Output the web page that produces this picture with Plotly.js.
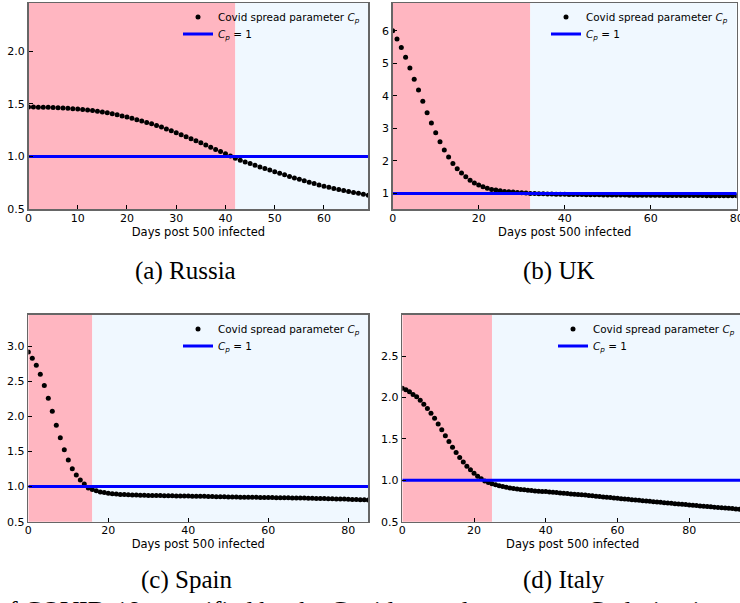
<!DOCTYPE html>
<html><head><meta charset="utf-8">
<script src="https://cdn.plot.ly/plotly-3.0.1.min.js"></script>
<style>html,body{margin:0;padding:0;overflow:hidden;background:#fff;width:740px;height:603px}#chart{width:745px;height:603px}</style>
</head><body><div id="chart"></div>
<script>
// ---- data ----
const countries = ["Russia", "UK", "Spain", "Italy"];
const captions = ["(a) Russia", "(b) UK", "(c) Spain", "(d) Italy"];
const splitDay = [42, 32, 16, 25];
const xMax = [69, 80, 85, 95];
const yRangeLow = [0.5, 0.52, 0.5, 0.5];
const yRangeHigh = [2.46, 6.85, 3.45, 3.0];
const xTicks = [[0,10,20,30,40,50,60],[0,20,40,60,80],[0,20,40,60,80],[0,20,40,60,80]];
const yTicks = [[0.5,1.0,1.5,2.0],[1,2,3,4,5,6],[0.5,1.0,1.5,2.0,2.5,3.0],[0.5,1.0,1.5,2.0,2.5]];
const yTickFmt = [".1f", "d", ".1f", ".1f"];
const thresholdCp = 1;

const russiaCp = [1.470,1.470,1.469,1.468,1.467,1.465,1.463,1.461,1.458,1.455,
 1.451,1.447,1.442,1.436,1.430,1.423,1.415,1.406,1.396,1.386,
 1.375,1.363,1.350,1.337,1.324,1.310,1.295,1.280,1.262,1.244,
 1.225,1.206,1.187,1.168,1.149,1.130,1.109,1.088,1.067,1.046,
 1.025,1.004,0.984,0.965,0.948,0.932,0.916,0.900,0.885,0.870,
 0.855,0.840,0.825,0.810,0.796,0.782,0.768,0.755,0.742,0.729,
 0.716,0.706,0.696,0.686,0.676,0.667,0.658,0.649,0.640,0.632];
const ukCp = [6.00,5.745,5.48,5.18,4.85,4.51,4.18,3.83,3.48,3.16,
 2.86,2.59,2.33,2.12,1.92,1.76,1.63,1.51,1.40,1.32,
 1.26,1.20,1.16,1.12,1.10,1.08,1.06,1.05,1.04,1.03,
 1.02,1.01,1.00,0.995,0.99,0.985,0.98,0.978,0.975,0.972,
 0.97,0.968,0.966,0.964,0.962,0.960,0.958,0.957,0.955,0.954,
 0.952,0.951,0.950,0.948,0.947,0.946,0.945,0.944,0.943,0.942,
 0.941,0.940,0.939,0.938,0.937,0.936,0.935,0.934,0.934,0.933,
 0.932,0.931,0.931,0.930,0.929,0.929,0.928,0.927,0.927,0.926,0.925];
const spainCp = [2.92,2.83,2.73,2.60,2.44,2.26,2.075,1.876,1.695,1.525,
 1.38,1.255,1.165,1.093,1.036,0.98,0.96,0.94,0.925,0.915,
 0.905,0.898,0.893,0.889,0.886,0.883,0.881,0.879,0.877,0.876,
 0.875,0.874,0.873,0.872,0.871,0.870,0.869,0.868,0.867,0.866,
 0.865,0.864,0.863,0.862,0.861,0.860,0.859,0.857,0.856,0.855,
 0.853,0.852,0.851,0.850,0.849,0.848,0.847,0.847,0.846,0.845,
 0.845,0.844,0.843,0.842,0.841,0.840,0.839,0.838,0.837,0.836,
 0.835,0.834,0.832,0.831,0.830,0.828,0.827,0.825,0.824,0.822,
 0.82,0.818,0.816,0.814,0.812,0.81];
const italyCp = [2.112,2.093,2.068,2.036,2.008,1.967,1.918,1.866,1.809,1.748,
 1.680,1.611,1.539,1.470,1.400,1.336,1.276,1.220,1.171,1.127,
 1.086,1.050,1.018,0.993,0.973,0.957,0.945,0.934,0.925,0.916,
 0.908,0.901,0.895,0.890,0.885,0.880,0.876,0.872,0.868,0.866,
 0.864,0.860,0.856,0.852,0.848,0.844,0.840,0.836,0.832,0.829,
 0.825,0.821,0.817,0.812,0.808,0.804,0.799,0.795,0.791,0.786,
 0.782,0.778,0.774,0.770,0.766,0.762,0.758,0.754,0.750,0.746,
 0.742,0.738,0.734,0.730,0.726,0.722,0.718,0.714,0.710,0.707,
 0.703,0.699,0.695,0.691,0.687,0.684,0.680,0.676,0.672,0.669,
 0.665,0.661,0.658,0.654,0.650];
const seriesCp = [russiaCp, ukCp, spainCp, italyCp];
const bottomText = "of COVID-19 quantified by the Covid spread parameter <i>C</i><sub><i>p</i></sub> during i";

// ---- layout geometry (pixels) ----
const W = 745, H = 603;
const panels = [
  {l: 28.5, r: 368.3, t: 3, b: 209, legX: 178, legY1: 17, legY2: 34, capX: 185, capY: 271},
  {l: 392.7, r: 736.7, t: 3, b: 209, legX: 546, legY1: 17, legY2: 34, capX: 559, capY: 271},
  {l: 28.3, r: 368.3, t: 314.7, b: 521.7, legX: 178, legY1: 329, legY2: 346, capX: 186, capY: 580},
  {l: 402.3, r: 743.1, t: 314.7, b: 521.7, legX: 553, legY1: 329, legY2: 346, capX: 564, capY: 580}
];
const pink = "#FFB6C1", alice = "#F0F8FF", blue = "#0000FF";
const tickFont = {family: "DejaVu Sans", size: 11, color: "#000"};
const legendFont = {family: "DejaVu Sans", size: 10.4, color: "#000"};

const traces = [], shapes = [], annotations = [];
const layout = {
  width: W, height: H, margin: {l: 0, r: 0, t: 0, b: 0},
  paper_bgcolor: "#fff", plot_bgcolor: "#fff", showlegend: true,
  font: {family: "DejaVu Sans", color: "#000"}
};

function legendKey(k) { return "legend" + (k === 1 ? "" : k); }

panels.forEach((p, i) => {
  const n = i + 1;
  const xa = "x" + (n === 1 ? "" : n), ya = "y" + (n === 1 ? "" : n);
  const xk = "xaxis" + (n === 1 ? "" : n), yk = "yaxis" + (n === 1 ? "" : n);
  const lgA = legendKey(n), lgB = legendKey(n + 4);
  const days = seriesCp[i].map((_, d) => d);
  traces.push({
    x: days, y: seriesCp[i], xaxis: xa, yaxis: ya, type: "scatter", mode: "markers",
    marker: {color: "#000", size: 5}, name: "Covid spread parameter <i>C</i><sub><i>p</i></sub>",
    legend: lgA, cliponaxis: true
  });
  traces.push({
    x: [0, xMax[i]], y: [thresholdCp, thresholdCp], xaxis: xa, yaxis: ya, type: "scatter", mode: "lines",
    line: {color: blue, width: 3}, name: "<i>C</i><sub><i>p</i></sub> = 1", legend: lgB
  });
  layout[xk] = {
    domain: [p.l / W, p.r / W], anchor: ya, range: [0, xMax[i]],
    tickvals: xTicks[i], ticks: "inside", ticklen: 4, tickwidth: 1, tickcolor: "#000",
    showline: true, mirror: true, linecolor: "#666", linewidth: 1.5,
    showgrid: false, zeroline: false, tickfont: tickFont, ticklabelstandoff: -2,
    title: {text: "Days post 500 infected", font: {family: "DejaVu Sans", size: 11.5, color: "#000"}, standoff: 0}
  };
  layout[yk] = {
    domain: [(H - p.b) / H, (H - p.t) / H], anchor: xa, range: [yRangeLow[i], yRangeHigh[i]],
    tickvals: yTicks[i], tickformat: yTickFmt[i], ticks: "inside", ticklen: 4, tickwidth: 1, tickcolor: "#000",
    showline: true, mirror: true, linecolor: "#666", linewidth: 1.5,
    showgrid: false, zeroline: false, tickfont: tickFont
  };
  [[lgA, p.legY1], [lgB, p.legY2]].forEach(([lg, yy]) => {
    layout[lg] = {
      x: p.legX / W, y: (H - yy) / H, xanchor: "left", yanchor: "middle",
      bgcolor: "rgba(0,0,0,0)", borderwidth: 0, font: legendFont
    };
  });
  shapes.push({type: "rect", xref: xa, yref: ya + " domain", x0: 0, x1: splitDay[i], y0: 0, y1: 1,
    fillcolor: pink, line: {width: 0}, layer: "below"});
  shapes.push({type: "rect", xref: xa, yref: ya + " domain", x0: splitDay[i], x1: xMax[i], y0: 0, y1: 1,
    fillcolor: alice, line: {width: 0}, layer: "below"});
  annotations.push({text: captions[i], xref: "paper", yref: "paper", x: p.capX / W, y: (H - p.capY) / H,
    xanchor: "center", yanchor: "middle", showarrow: false,
    font: {family: "Liberation Serif", size: 25, color: "#000"}});
});
annotations.push({text: bottomText, xref: "paper", yref: "paper", x: -6 / W, y: (H - 612) / H,
  xanchor: "left", yanchor: "middle", showarrow: false,
  font: {family: "Liberation Serif", size: 26, color: "#000"}});
layout.shapes = shapes;
layout.annotations = annotations;

Plotly.newPlot("chart", traces, layout, {staticPlot: true, displayModeBar: false});
</script></body></html>
